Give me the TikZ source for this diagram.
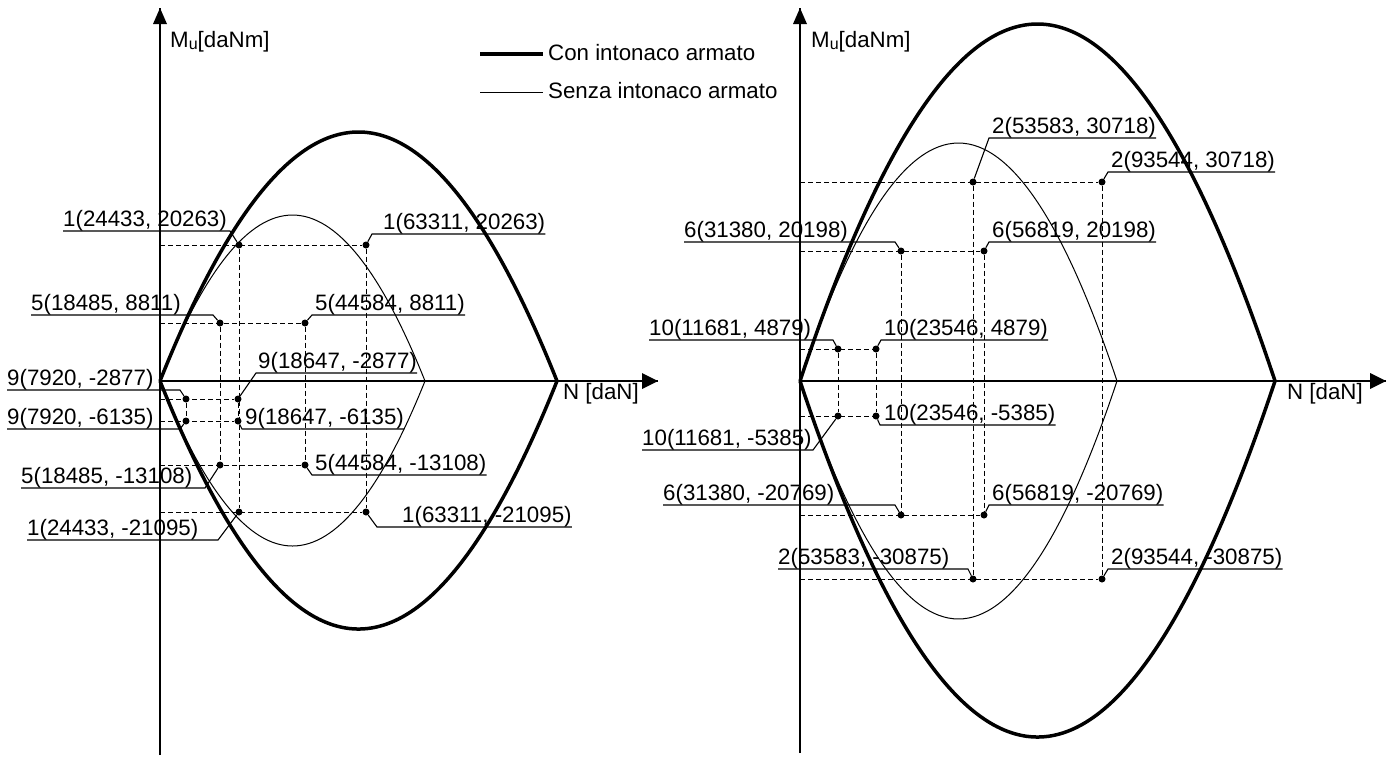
\documentclass[tikz,border=0pt]{standalone}
\usepackage{fontspec}
\setmainfont{Liberation Sans}
\begin{document}
\begin{tikzpicture}[x=1pt,y=-1pt]
\tikzstyle{every node}+=[inner sep=0pt,font=\fontsize{22.3}{26}\selectfont]
\tikzstyle{pt}=[circle,fill=black,minimum size=7pt]
\tikzstyle{lbl}=[anchor=south west]
\tikzstyle{guide}=[dash pattern=on 5pt off 3pt,line width=1pt]
\tikzstyle{lead}=[line width=1.1pt]
\tikzstyle{axis}=[line width=1.3pt]
\tikzstyle{strong}=[line width=3.5pt]
\tikzstyle{weak}=[line width=1pt]
\useasboundingbox (0,0) rectangle (1389,761);

% left diagram
\coordinate (oL) at (160,381);
\coordinate (eL) at (557,381);
\coordinate (fL) at (425,381);
\coordinate (yL) at (160,8);
\coordinate (yLb) at (160,755);
\coordinate (xL) at (658,381);
\draw[axis] (yLb) -- (yL);
\draw[axis] (oL) -- (xL);
\fill (yL) -- ++(-7,16) -- ++(14,0) -- cycle;
\fill (xL) -- ++(-16,-8) -- ++(0,16) -- cycle;
\node[anchor=base west] (mL) at (170,47) {M\raisebox{-2pt}{\fontsize{16}{16}\selectfont u}[daNm]};
\node[anchor=base west] (nL) at (563,399) {N [daN]};
\draw[strong] (oL) .. controls (292.3,49) and (424.7,49) .. (eL) .. controls (424.7,711.7) and (292.3,711.7) .. (oL);
\draw[weak] (oL) .. controls (248.3,159.7) and (336.7,159.7) .. (fL) .. controls (336.7,601) and (248.3,601) .. (oL);

\node[pt] (L1a) at (239,245) {};
\node[pt] (L1b) at (366,245) {};
\node[pt] (L5a) at (220,323) {};
\node[pt] (L5b) at (305,323) {};
\node[pt] (L9a) at (186,399) {};
\node[pt] (L9b) at (238,399) {};
\node[pt] (L9c) at (186,421) {};
\node[pt] (L9d) at (238,421) {};
\node[pt] (L5c) at (220,465) {};
\node[pt] (L5d) at (305,465) {};
\node[pt] (L1c) at (239,512) {};
\node[pt] (L1d) at (366,512) {};
\draw[guide] (oL |- L1b) -- (L1b);
\draw[guide] (oL |- L5b) -- (L5b);
\draw[guide] (oL |- L9b) -- (L9b);
\draw[guide] (oL |- L9d) -- (L9d);
\draw[guide] (oL |- L5d) -- (L5d);
\draw[guide] (oL |- L1d) -- (L1d);
\draw[guide] (L1a) -- (L1c);
\draw[guide] (L1b) -- (L1d);
\draw[guide] (L5a) -- (L5c);
\draw[guide] (L5b) -- (L5d);
\draw[guide] (L9a) -- (L9c);
\draw[guide] (L9b) -- (L9d);

\node[lbl] (tL1a) at (63,231) {1(24433, 20263)};
\node[lbl] (tL1b) at (383,234) {1(63311, 20263)};
\node[lbl] (tL5a) at (31,315) {5(18485, 8811)};
\node[lbl] (tL5b) at (315,315) {5(44584, 8811)};
\node[lbl] (tL9a) at (7,390) {9(7920, -2877)};
\node[lbl] (tL9b) at (258,373) {9(18647, -2877)};
\node[lbl] (tL9c) at (7,429) {9(7920, -6135)};
\node[lbl] (tL9d) at (245,429) {9(18647, -6135)};
\node[lbl] (tL5c) at (21,488) {5(18485, -13108)};
\node[lbl] (tL5d) at (315,475) {5(44584, -13108)};
\node[lbl] (tL1c) at (27,540) {1(24433, -21095)};
\node[lbl] (tL1d) at (402,527) {1(63311, -21095)};
\coordinate (uL1a) at (230,231);
\coordinate (uL1b) at (372,234);
\coordinate (uL5a) at (213,315);
\coordinate (uL5b) at (312,315);
\coordinate (uL9a) at (180,390);
\coordinate (uL9b) at (256,373);
\coordinate (uL9c) at (180,429);
\coordinate (uL9d) at (242,429);
\coordinate (uL5c) at (205,488);
\coordinate (uL5d) at (312,475);
\coordinate (uL1c) at (218,540);
\coordinate (uL1d) at (377,527);
\draw[lead] (tL1a.south west) -- (uL1a) -- (L1a);
\draw[lead] (L1b) -- (uL1b) -- (tL1b.south east);
\draw[lead] (tL5a.south west) -- (uL5a) -- (L5a);
\draw[lead] (L5b) -- (uL5b) -- (tL5b.south east);
\draw[lead] (tL9a.south west) -- (uL9a) -- (L9a);
\draw[lead] (L9b) -- (uL9b) -- (tL9b.south east);
\draw[lead] (tL9c.south west) -- (uL9c) -- (L9c);
\draw[lead] (L9d) -- (uL9d) -- (tL9d.south east);
\draw[lead] (tL5c.south west) -- (uL5c) -- (L5c);
\draw[lead] (L5d) -- (uL5d) -- (tL5d.south east);
\draw[lead] (tL1c.south west) -- (uL1c) -- (L1c);
\draw[lead] (L1d) -- (uL1d) -- (tL1d.south east);

% legend
\coordinate (g1a) at (480,54);
\coordinate (g1b) at (543,54);
\coordinate (g2a) at (480,92);
\coordinate (g2b) at (543,92);
\draw[strong] (g1a) -- (g1b);
\draw[weak] (g2a) -- (g2b);
\node[anchor=base west] (g1) at (548,60) {Con intonaco armato};
\node[anchor=base west] (g2) at (548,98) {Senza intonaco armato};

% right diagram
\coordinate (oR) at (800,381);
\coordinate (eR) at (1275,381);
\coordinate (fR) at (1117,381);
\coordinate (yR) at (800,8);
\coordinate (yRb) at (800,753);
\coordinate (xR) at (1386,381);
\draw[axis] (yRb) -- (yR);
\draw[axis] (oR) -- (xR);
\fill (yR) -- ++(-7,16) -- ++(14,0) -- cycle;
\fill (xR) -- ++(-16,-8) -- ++(0,16) -- cycle;
\node[anchor=base west] (mR) at (811,47) {M\raisebox{-2pt}{\fontsize{16}{16}\selectfont u}[daNm]};
\node[anchor=base west] (nR) at (1287,399) {N [daN]};
\draw[strong] (oR) .. controls (958.3,-95) and (1116.7,-95) .. (eR) .. controls (1116.7,855.7) and (958.3,855.7) .. (oR);
\draw[weak] (oR) .. controls (905.7,63.7) and (1011.3,63.7) .. (fR) .. controls (1011.3,698.3) and (905.7,698.3) .. (oR);

\node[pt] (R2a) at (973,182) {};
\node[pt] (R2b) at (1102,182) {};
\node[pt] (R6a) at (901,251) {};
\node[pt] (R6b) at (984,251) {};
\node[pt] (R10a) at (838,349) {};
\node[pt] (R10b) at (876,349) {};
\node[pt] (R10c) at (838,416) {};
\node[pt] (R10d) at (876,416) {};
\node[pt] (R6c) at (901,515) {};
\node[pt] (R6d) at (984,515) {};
\node[pt] (R2c) at (973,579) {};
\node[pt] (R2d) at (1102,579) {};
\draw[guide] (oR |- R2b) -- (R2b);
\draw[guide] (oR |- R6b) -- (R6b);
\draw[guide] (oR |- R10b) -- (R10b);
\draw[guide] (oR |- R10d) -- (R10d);
\draw[guide] (oR |- R6d) -- (R6d);
\draw[guide] (oR |- R2d) -- (R2d);
\draw[guide] (R2a) -- (R2c);
\draw[guide] (R2b) -- (R2d);
\draw[guide] (R6a) -- (R6c);
\draw[guide] (R6b) -- (R6d);
\draw[guide] (R10a) -- (R10c);
\draw[guide] (R10b) -- (R10d);

\node[lbl] (tR2a) at (992,138) {2(53583, 30718)};
\node[lbl] (tR2b) at (1111,172) {2(93544, 30718)};
\node[lbl] (tR6a) at (684,242) {6(31380, 20198)};
\node[lbl] (tR6b) at (992,242) {6(56819, 20198)};
\node[lbl] (tR10a) at (649,340) {10(11681, 4879)};
\node[lbl] (tR10b) at (884,340) {10(23546, 4879)};
\node[lbl] (tR10c) at (642,450) {10(11681, -5385)};
\node[lbl] (tR10d) at (884,425) {10(23546, -5385)};
\node[lbl] (tR6c) at (663,505) {6(31380, -20769)};
\node[lbl] (tR6d) at (992,505) {6(56819, -20769)};
\node[lbl] (tR2c) at (778,569) {2(53583, -30875)};
\node[lbl] (tR2d) at (1111,569) {2(93544, -30875)};
\coordinate (uR2a) at (989,138);
\coordinate (uR2b) at (1108,172);
\coordinate (uR6a) at (895,242);
\coordinate (uR6b) at (989,242);
\coordinate (uR10a) at (833,340);
\coordinate (uR10b) at (881,340);
\coordinate (uR10c) at (813,450);
\coordinate (uR10d) at (880,425);
\coordinate (uR6c) at (895,505);
\coordinate (uR6d) at (989,505);
\coordinate (uR2c) at (968,569);
\coordinate (uR2d) at (1108,569);
\draw[lead] (R2a) -- (uR2a) -- (tR2a.south east);
\draw[lead] (R2b) -- (uR2b) -- (tR2b.south east);
\draw[lead] (tR6a.south west) -- (uR6a) -- (R6a);
\draw[lead] (R6b) -- (uR6b) -- (tR6b.south east);
\draw[lead] (tR10a.south west) -- (uR10a) -- (R10a);
\draw[lead] (R10b) -- (uR10b) -- (tR10b.south east);
\draw[lead] (tR10c.south west) -- (uR10c) -- (R10c);
\draw[lead] (R10d) -- (uR10d) -- (tR10d.south east);
\draw[lead] (tR6c.south west) -- (uR6c) -- (R6c);
\draw[lead] (R6d) -- (uR6d) -- (tR6d.south east);
\draw[lead] (tR2c.south west) -- (uR2c) -- (R2c);
\draw[lead] (R2d) -- (uR2d) -- (tR2d.south east);
\end{tikzpicture}
\end{document}
